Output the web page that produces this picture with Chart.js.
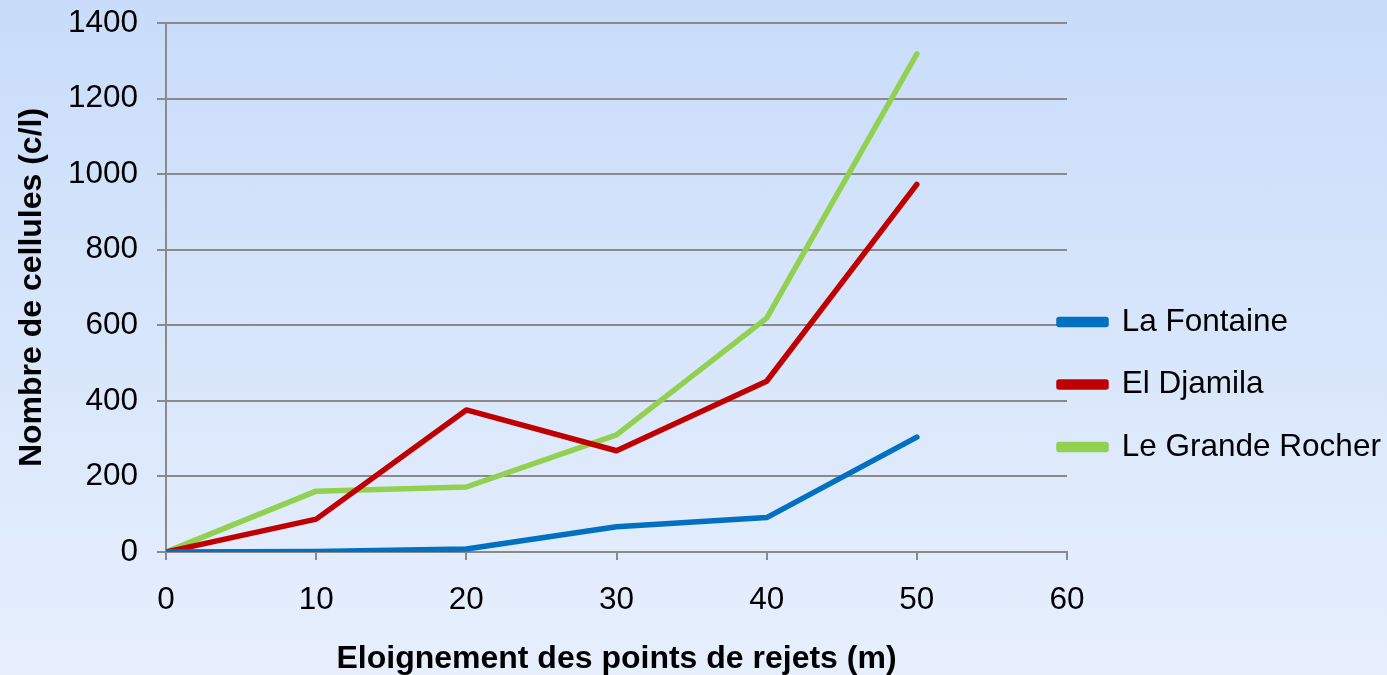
<!DOCTYPE html>
<html lang="fr">
<head>
<meta charset="utf-8">
<title>Nombre de cellules</title>
<script src="https://cdn.jsdelivr.net/npm/chart.js@4.4.1/dist/chart.umd.min.js"></script>
<style>
	html, body {
		margin: 0;
		padding: 0;
		width: 1387px;
		height: 675px;
		overflow: hidden;
		background: linear-gradient(to bottom, #c8dcfa 0%, #d8e6fb 50%, #e7effd 100%);
	}
	#wrap {
		position: relative;
		width: 1387px;
		height: 675px;
	}
</style>
</head>
<body>
<div id="wrap"><canvas id="chart"></canvas></div>
<script>
const distances = [0, 10, 20, 30, 40, 50];
const laFontaine = [0, 1, 8, 67, 91, 304];
const elDjamila = [0, 87, 376, 268, 452, 973];
const grandeRocher = [0, 161, 172, 310, 619, 1318];
const seriesNames = ['La Fontaine', 'El Djamila', 'Le Grande Rocher'];
const seriesColors = ['#0070c0', '#c00000', '#92d050'];

const gridColor = '#8a8a8a';
const fontFamily = '"Liberation Sans", Arial, sans-serif';
const labelSize = 31.5;
const titleSize = 32;

const toPoints = (values) => distances.map((x, i) => ({ x, y: values[i] }));

const makeDataset = (label, values, color) => ({
	label,
	data: toPoints(values),
	borderColor: color,
	backgroundColor: color,
	borderWidth: 5.5,
	borderCapStyle: 'round',
	borderJoinStyle: 'round',
	tension: 0,
	pointRadius: 0,
	fill: false,
});

// keep the legend on the right, next to the plot like the original
const legendPlacer = {
	id: 'legendPlacer',
	beforeDraw(chart) {
		const legend = chart.legend;
		const pad = legend.options.labels.padding;
		const dy = (322 - labelSize / 2) - pad - legend.top;
		legend.left = 1059 - pad;
		legend.right = chart.width;
		legend.width = legend.right - legend.left;
		legend.top += dy;
		legend.bottom += dy;
		(legend.legendHitBoxes || []).forEach((box) => {
			box.width = legend.width;
		});
	},
};

const noEdgePadding = (scale) => {
	scale.paddingTop = 0;
	scale.paddingBottom = 0;
	scale.paddingLeft = 0;
	scale.paddingRight = 0;
};

Chart.defaults.font.family = fontFamily;
Chart.defaults.color = '#000000';

new Chart(document.getElementById('chart'), {
	type: 'line',
	data: {
		datasets: [
			makeDataset(seriesNames[0], laFontaine, seriesColors[0]),
			makeDataset(seriesNames[1], elDjamila, seriesColors[1]),
			makeDataset(seriesNames[2], grandeRocher, seriesColors[2]),
		],
	},
	options: {
		responsive: true,
		maintainAspectRatio: false,
		animation: false,
		layout: {
			padding: { top: 23, left: 0, right: 0, bottom: 0 },
		},
		plugins: {
			tooltip: { enabled: false },
			legend: {
				position: 'right',
				align: 'start',
				maxWidth: 320,
				labels: {
					boxWidth: 47,
					boxHeight: 5,
					padding: 31,
					font: { size: labelSize, family: fontFamily },
					color: '#000000',
				},
			},
		},
		scales: {
			x: {
				type: 'linear',
				min: 0,
				max: 60,
				ticks: {
					stepSize: 10,
					padding: 21,
					font: { size: labelSize, family: fontFamily },
					color: '#000000',
					callback: (value) => String(value),
				},
				grid: {
					drawOnChartArea: false,
					drawTicks: true,
					tickLength: 8,
					color: gridColor,
					lineWidth: 2,
				},
				border: { color: gridColor, width: 2 },
				title: {
					display: true,
					text: 'Eloignement des points de rejets (m)',
					font: { size: titleSize, weight: 'bold', family: fontFamily, lineHeight: 1 },
					color: '#000000',
					padding: { top: 0, bottom: 0 },
				},
				afterFit(scale) {
					scale.height = 123;
					noEdgePadding(scale);
				},
			},
			y: {
				min: 0,
				max: 1400,
				ticks: {
					stepSize: 200,
					padding: 19,
					font: { size: labelSize, family: fontFamily },
					color: '#000000',
					callback: (value) => String(value),
				},
				grid: {
					drawTicks: true,
					tickLength: 9,
					color: gridColor,
					lineWidth: 2,
				},
				border: { color: gridColor, width: 2 },
				title: {
					display: true,
					text: 'Nombre de cellules (c/l)',
					font: { size: titleSize, weight: 'bold', family: fontFamily, lineHeight: 1 },
					color: '#000000',
					padding: { top: 16, bottom: 0 },
				},
				afterFit(scale) {
					scale.width = 166;
					noEdgePadding(scale);
				},
			},
		},
	},
	plugins: [legendPlacer],
});
</script>
</body>
</html>
